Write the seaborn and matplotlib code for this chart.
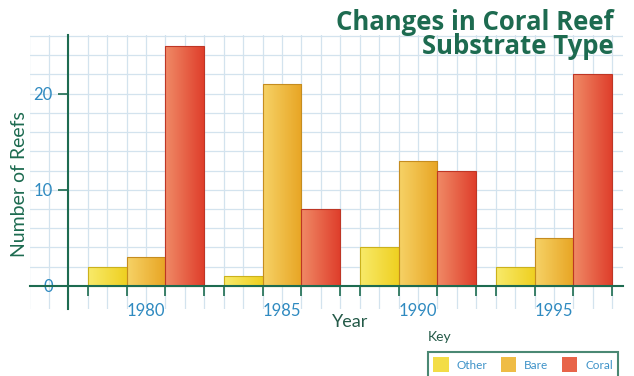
import numpy as np
import pandas as pd
import matplotlib
matplotlib.use("Agg")
import matplotlib.pyplot as plt
import matplotlib.colors as mcolors
from matplotlib.patches import Patch
import seaborn as sns

# values
years = ["1980", "1985", "1990", "1995"]
other = [2, 1, 4, 2]
bare = [3, 21, 13, 5]
coral = [25, 8, 12, 22]
substrates = ["Other", "Bare", "Coral"]

df = pd.DataFrame({"Year": years, "Other": other, "Bare": bare, "Coral": coral})
long_df = df.melt(id_vars="Year", var_name="Substrate", value_name="Reefs")

# colours: (left, right) of the horizontal gradient on each bar
grad = {
    "Other": ("#f8ea6a", "#efd021"),
    "Bare": ("#f6d266", "#e8a524"),
    "Coral": ("#f08a66", "#df3f2c"),
}
palette = {k: mcolors.to_hex(np.mean([mcolors.to_rgb(c) for c in v], axis=0))
           for k, v in grad.items()}

green = "#1d6b50"
blue = "#2f8ac0"
gridc = "#d3e3ee"

sns.set_style("white")
plt.rcParams["font.family"] = ["Lato", "DejaVu Sans"]

fig = plt.figure(figsize=(6.34, 3.76), dpi=100)
W, H = 634, 376
ax = fig.add_axes([30 / W, 1 - 309 / H, (623 - 30) / W, (309 - 35) / H])

sns.barplot(data=long_df, x="Year", y="Reefs", hue="Substrate", order=years,
            hue_order=substrates, palette=palette, width=6 / 7, ax=ax,
            legend=False, saturation=1, zorder=3)

xlim = (-0.853, 3.507)
ylim = (-2.4, 26.1)

# gradient fill on each bar
for patch, sub in zip(ax.patches, np.repeat(substrates, len(years))):
    x0, y0 = patch.get_x(), patch.get_y()
    w, h = patch.get_width(), patch.get_height()
    cmap = mcolors.LinearSegmentedColormap.from_list(sub, grad[sub])
    im = ax.imshow(np.linspace(0, 1, 64)[None, :], cmap=cmap, aspect="auto",
                   extent=(x0, x0 + w, y0, y0 + h), zorder=3.5,
                   interpolation="bicubic")
    im.set_clip_path(patch)
    patch.set_edgecolor(mcolors.to_hex(np.array(mcolors.to_rgb(grad[sub][1])) * 0.85))
    patch.set_linewidth(0.8)
    patch.set_zorder(4)
    patch.set_facecolor("none")

ax.set_xlim(*xlim)
ax.set_ylim(*ylim)

# graph paper grid
for v in np.arange(-6, 26) / 7:
    ax.axvline(v, color=gridc, lw=0.9, zorder=0)
for v in range(2, 27, 2):
    ax.axhline(v, color=gridc, lw=0.9, zorder=0)

# axes spines
for s in ["top", "right"]:
    ax.spines[s].set_visible(False)
ax.spines["left"].set_position(("data", -0.574))
ax.spines["bottom"].set_position(("data", 0))
for s in ["left", "bottom"]:
    ax.spines[s].set_color(green)
    ax.spines[s].set_linewidth(1.5)
    ax.spines[s].set_zorder(5)

# x ticks at bar edges, labels at group centres
edges = [c + d for c in range(len(years)) for d in (-3 / 7, -1 / 7, 1 / 7, 3 / 7)]
ax.set_xticks(edges)
ax.set_xticklabels([])
ax.tick_params(axis="x", which="major", direction="out", length=7, width=1.2,
               color=green, bottom=True)
ax.set_xticks(range(len(years)), minor=True)
ax.set_xticklabels(years, minor=True)
ax.tick_params(axis="x", which="minor", length=0, pad=12, labelsize=12,
               labelcolor=blue)

ax.set_yticks([0, 10, 20])
ax.tick_params(axis="y", direction="out", length=7, width=1.2, color=green,
               left=True, pad=4, labelsize=12, labelcolor=blue)

ax.set_xlabel("")
ax.set_ylabel("")

fig.text(20 / W, 1 - 184 / H, "Number of Reefs", rotation=90, ha="center",
         va="center", color=green, fontsize=14)
fig.text(350 / W, 1 - 322 / H, "Year", ha="center", va="center",
         color="#245a48", fontsize=13)
fig.text(428 / W, 1 - 337 / H, "Key", ha="left", va="center",
         color="#245a48", fontsize=10)

fig.text(614 / W, 1 - 9 / H, "Changes in Coral Reef\nSubstrate Type",
         ha="right", va="top", color=green, fontsize=18.5, fontweight="bold",
         family=["Open Sans", "DejaVu Sans"], linespacing=0.86, zorder=10)

handles = [Patch(facecolor=palette[s], edgecolor="none") for s in substrates]
leg = fig.legend(handles, substrates, loc="upper left",
                 bbox_to_anchor=(428 / W, 1 - 352 / H), ncol=3, frameon=True,
                 fancybox=False, fontsize=8.5, handlelength=1.3, handleheight=1.6,
                 columnspacing=1.1, handletextpad=0.7, borderpad=0.45,
                 borderaxespad=0)
leg.get_frame().set_edgecolor(green)
leg.get_frame().set_linewidth(1.5)
for t in leg.get_texts():
    t.set_color("#3d92c8")

fig.savefig("out.png", dpi=100)
